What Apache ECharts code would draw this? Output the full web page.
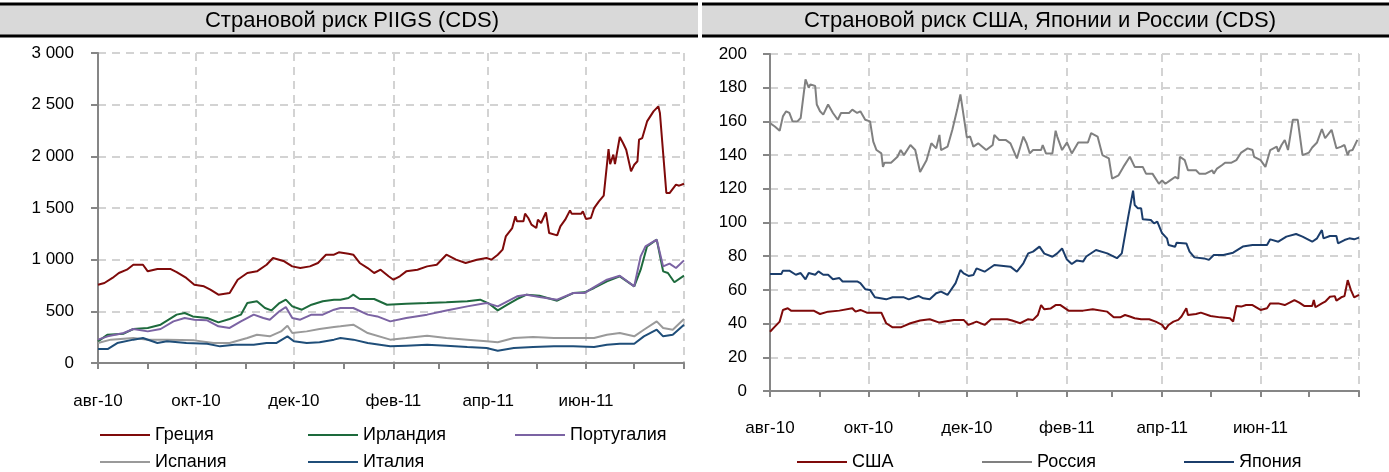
<!DOCTYPE html>
<html>
<head>
<meta charset="utf-8">
<title>Страновой риск</title>
<script src="https://cdn.jsdelivr.net/npm/echarts@6/dist/echarts.min.js"></script>
<style>
  html, body { margin: 0; padding: 0; background: #fff; }
  #chart { width: 1389px; height: 472px; }
</style>
</head>
<body>
<div id="chart"></div>
<script>
// x axis: one category per calendar day, 0 = 01.08.2010 ... 365 = 01.08.2011
const dayCount = 366
const monthStarts = [0, 31, 61, 92, 122, 153, 184, 212, 243, 273, 304, 334, 365]
const labelDays = [0, 61, 122, 184, 243, 304]
const tickLabels = ['авг-10', 'окт-10', 'дек-10', 'фев-11', 'апр-11', 'июн-11']
const gridDays = [61, 122, 184, 243, 304, 365]

// PIIGS CDS, [day, bp]
const greece = [[0, 758], [4, 774], [9, 823], [13, 871], [18, 903], [22, 951], [28, 951], [31, 887], [37, 910], [45, 910], [49, 880], [55, 823], [60, 758], [66, 742], [70, 710], [75, 661], [82, 677], [87, 806], [93, 871], [99, 887], [105, 951], [109, 1016], [116, 984], [121, 935], [126, 919], [132, 935], [137, 968], [142, 1048], [147, 1048], [150, 1071], [156, 1058], [159, 1048], [163, 968], [168, 919], [172, 871], [176, 903], [181, 839], [184, 806], [188, 839], [192, 887], [199, 903], [205, 935], [211, 951], [217, 1048], [223, 1000], [229, 968], [236, 1000], [242, 1016], [245, 1000], [249, 1048], [252, 1097], [254, 1225], [258, 1306], [260, 1419], [261, 1371], [265, 1371], [266, 1445], [268, 1403], [270, 1339], [273, 1306], [274, 1387], [276, 1355], [279, 1457], [281, 1258], [286, 1235], [288, 1322], [291, 1387], [294, 1477], [295, 1445], [301, 1445], [302, 1468], [304, 1393], [307, 1403], [309, 1499], [312, 1564], [315, 1619], [317, 1919], [318, 2071], [319, 1925], [321, 2016], [322, 1925], [325, 2187], [327, 2129], [329, 2064], [332, 1855], [334, 1919], [336, 1952], [337, 2161], [339, 2177], [342, 2338], [343, 2338], [346, 2435], [349, 2484], [350, 2419], [354, 1645], [356, 1645], [360, 1726], [362, 1716], [365, 1735]]
const ireland = [[0, 209], [6, 274], [16, 284], [22, 329], [31, 339], [39, 371], [49, 468], [54, 484], [59, 451], [68, 435], [75, 393], [82, 426], [89, 468], [93, 580], [99, 597], [104, 532], [108, 509], [113, 580], [117, 613], [121, 548], [127, 516], [133, 564], [140, 597], [147, 613], [151, 613], [156, 629], [159, 661], [163, 619], [172, 619], [180, 564], [192, 574], [205, 580], [217, 587], [230, 597], [238, 613], [243, 580], [249, 509], [255, 564], [261, 619], [267, 661], [275, 651], [286, 603], [296, 677], [303, 684], [309, 726], [317, 790], [325, 839], [334, 742], [338, 903], [342, 1129], [348, 1194], [352, 887], [355, 871], [359, 781], [365, 845]]
const portugal = [[0, 226], [6, 258], [16, 290], [22, 329], [31, 306], [39, 329], [47, 403], [54, 435], [60, 419], [68, 413], [75, 355], [82, 339], [89, 403], [97, 468], [103, 435], [107, 419], [113, 500], [117, 542], [121, 435], [126, 419], [133, 468], [140, 468], [147, 516], [151, 532], [159, 532], [168, 468], [174, 451], [182, 403], [192, 435], [205, 468], [217, 509], [230, 548], [242, 580], [249, 548], [255, 597], [261, 645], [267, 661], [275, 638], [286, 613], [296, 677], [303, 677], [309, 735], [317, 806], [325, 845], [334, 742], [338, 1032], [341, 1129], [348, 1194], [352, 935], [356, 961], [360, 919], [365, 993]]
const spain = [[0, 193], [8, 226], [22, 242], [31, 226], [43, 226], [60, 219], [72, 193], [82, 193], [93, 242], [99, 274], [107, 258], [114, 306], [118, 361], [121, 290], [130, 306], [138, 329], [147, 348], [151, 355], [159, 371], [168, 290], [182, 226], [192, 242], [205, 264], [217, 242], [230, 226], [242, 210], [249, 200], [259, 242], [271, 252], [284, 242], [296, 242], [309, 242], [317, 274], [325, 290], [334, 258], [340, 322], [348, 403], [352, 339], [358, 322], [365, 426]]
const italy = [[0, 135], [6, 135], [12, 193], [22, 226], [28, 242], [37, 193], [43, 210], [55, 193], [68, 187], [76, 161], [85, 177], [97, 177], [105, 193], [111, 193], [118, 258], [122, 210], [130, 193], [138, 200], [147, 226], [151, 242], [159, 226], [168, 193], [182, 161], [192, 168], [205, 177], [217, 168], [230, 155], [242, 145], [249, 119], [259, 145], [271, 155], [284, 161], [296, 161], [309, 155], [317, 177], [325, 187], [334, 187], [340, 258], [348, 322], [352, 258], [358, 274], [365, 371]]

// USA / Russia / Japan CDS, [day, bp]
const usa = [[0, 35.2], [3, 38.2], [6, 41.2], [8, 48.1], [11, 49.1], [13, 47.7], [27, 47.7], [28, 48.5], [31, 45.7], [36, 47.1], [43, 47.7], [51, 49.1], [53, 47.1], [56, 48.1], [60, 46.5], [69, 46.5], [72, 40.2], [76, 37.8], [81, 37.8], [87, 40.2], [93, 41.8], [99, 42.6], [105, 40.6], [114, 42.2], [120, 42.2], [123, 39.2], [128, 41.2], [133, 39.2], [137, 42.6], [147, 42.6], [150, 41.8], [155, 40.2], [160, 42.6], [163, 42.2], [166, 45.1], [168, 51], [170, 48.5], [174, 49], [177, 51], [180, 51], [185, 47.7], [194, 47.7], [200, 48.5], [209, 47.1], [213, 43.7], [217, 43.7], [220, 45.1], [223, 44.2], [226, 43.2], [230, 42.6], [235, 42.6], [239, 41.2], [243, 39.2], [245, 36.6], [247, 39.2], [250, 41.2], [253, 42.2], [255, 44.2], [258, 49.1], [259, 45.1], [264, 45.7], [267, 46.5], [273, 44.5], [279, 43.7], [285, 43.2], [287, 41.2], [289, 50.5], [292, 50.1], [295, 51], [299, 51], [304, 48.1], [308, 49.1], [310, 52], [315, 52], [319, 51], [322, 52.4], [325, 54], [328, 52.4], [331, 50.5], [336, 50.5], [337, 54], [338, 49.7], [342, 52], [344, 53], [347, 55.9], [350, 56.3], [351, 53.6], [354, 55.6], [356, 56.3], [358, 65.8], [360, 59.9], [362, 55.6], [365, 57]]
const russia = [[0, 159], [3, 157], [6, 154.5], [8, 163], [10, 166], [12, 165], [14, 160], [17, 160], [19, 162], [20, 162], [22, 185], [24, 180], [25, 182], [28, 181], [29, 170], [31, 166], [33, 164], [36, 170], [39, 165], [42, 161], [44, 165], [49, 165], [51, 167], [54, 165], [56, 166], [59, 161], [62, 160], [64, 148], [66, 143], [69, 141], [70, 133], [71, 135.5], [75, 135.5], [79, 139], [81, 143], [83, 140], [87, 146], [90, 143], [93, 130], [97, 137], [100, 147], [103, 144], [105, 152], [106, 143], [110, 145], [113, 155], [116, 167], [118, 176], [122, 150.5], [124, 151], [126, 145], [129, 147], [134, 143], [138, 146], [139, 152], [142, 149], [146, 149], [149, 147], [153, 138], [157, 151], [159, 147], [161, 141], [163, 143], [168, 143], [169, 146], [171, 141], [175, 141], [177, 154.5], [178, 151], [181, 143], [184, 147.5], [187, 141], [191, 147.5], [197, 147.5], [199, 153], [203, 151], [206, 140], [210, 138], [212, 126], [216, 128], [219, 133], [223, 139], [226, 133], [231, 133], [233, 129], [237, 129], [241, 123], [243, 125], [245, 123], [248, 125], [251, 127], [253, 126], [254, 139], [257, 137], [259, 131], [264, 131], [266, 129], [270, 129], [274, 131], [275, 129], [277, 132], [280, 134], [282, 135.5], [286, 135.5], [289, 137], [292, 141.5], [296, 144], [299, 143], [300, 139], [304, 137], [307, 133], [310, 143], [312, 144], [314, 145], [315, 142], [317, 146], [319, 149], [321, 143], [324, 161], [327, 161], [330, 140], [334, 141.5], [336, 144.5], [339, 147.5], [342, 155.5], [344, 150], [345, 150], [348, 155], [351, 144], [354, 145], [356, 146], [358, 140], [359, 142.5], [361, 143], [364, 149]]
const japan = [[0, 69.4], [7, 69.4], [8, 71.4], [12, 71.4], [16, 69], [19, 70], [22, 66.3], [24, 70], [28, 69], [30, 71], [33, 69], [36, 69], [39, 66.3], [43, 67], [45, 65], [54, 65], [56, 64], [59, 60.4], [62, 60], [65, 55.6], [72, 54.4], [76, 55.6], [83, 55.6], [86, 54.4], [92, 56.4], [95, 55], [99, 54.4], [103, 58], [106, 59], [110, 57], [115, 64], [118, 71.8], [120, 69.8], [123, 68.3], [126, 68.8], [128, 72.8], [133, 70.8], [139, 74.8], [149, 73.8], [153, 70.8], [157, 75.8], [160, 81.7], [163, 82.7], [167, 85.7], [170, 81.5], [175, 79.7], [178, 81.7], [181, 84.6], [184, 78], [187, 75.4], [190, 77.4], [194, 76.8], [196, 79.8], [202, 83.7], [209, 81.7], [215, 78.8], [218, 81.7], [222, 103.5], [225, 118.9], [226, 110.4], [228, 108.4], [230, 108.4], [231, 101.9], [236, 101.5], [238, 99.5], [240, 100.5], [243, 93.6], [246, 90.6], [247, 86.6], [251, 85.6], [252, 88], [258, 87.6], [260, 82.7], [263, 79.3], [269, 78.7], [272, 77.8], [275, 80.7], [281, 80.7], [287, 82.1], [293, 85.7], [299, 86.7], [308, 86.7], [310, 90], [315, 88.6], [320, 91.6], [326, 93.2], [330, 91.6], [336, 88.6], [339, 90.6], [342, 95.5], [343, 90.6], [347, 92], [351, 92], [352, 87.6], [356, 89.6], [359, 90.6], [362, 90], [365, 91]]

const FONT = "'Liberation Sans', Arial, sans-serif"
const AXIS_GREY = '#868686'
const GRID_GREY = '#d3d3d3'

const days = []
for (let i = 0; i < dayCount; i++) days.push(String(i))

const labelAt = {}
labelDays.forEach((d, i) => { labelAt[d] = tickLabels[i] })

function fmtThousands(v) {
  return String(v).replace(/\B(?=(\d{3})+(?!\d))/g, ' ')
}

function makeXAxis(gridIndex, margin) {
  return {
    type: 'category',
    gridIndex: gridIndex,
    data: days,
    boundaryGap: false,
    axisLine: { lineStyle: { color: AXIS_GREY, width: 2 } },
    axisTick: {
      length: 6,
      interval: (i) => monthStarts.indexOf(i) >= 0,
      lineStyle: { color: AXIS_GREY, width: 2 }
    },
    axisLabel: {
      interval: (i) => labelAt[i] !== undefined,
      formatter: (v) => labelAt[v] || '',
      color: '#000',
      fontSize: 17,
      fontFamily: FONT,
      margin: margin
    },
    splitLine: {
      show: true,
      interval: (i) => gridDays.indexOf(i) >= 0,
      lineStyle: { color: GRID_GREY, width: 2, type: [8, 6] }
    }
  }
}

function makeYAxis(gridIndex, max, step, margin) {
  return {
    type: 'value',
    gridIndex: gridIndex,
    min: 0,
    max: max,
    interval: step,
    axisLine: { show: true, lineStyle: { color: AXIS_GREY, width: 2 } },
    axisTick: { show: true, length: 7, lineStyle: { color: AXIS_GREY, width: 2 } },
    axisLabel: {
      formatter: fmtThousands,
      color: '#000',
      fontSize: 17,
      fontFamily: FONT,
      margin: margin
    },
    splitLine: { lineStyle: { color: GRID_GREY, width: 2, type: [8, 6] } }
  }
}

function makeLine(name, data, color, idx) {
  return {
    name: name,
    type: 'line',
    xAxisIndex: idx,
    yAxisIndex: idx,
    data: data,
    symbol: 'none',
    showSymbol: false,
    color: color,
    lineStyle: { color: color, width: 2 },
    emphasis: { disabled: true },
    animation: false
  }
}

function legendAt(name, left, top) {
  return {
    data: [name],
    left: left,
    top: top,
    icon: 'rect',
    itemWidth: 50,
    itemHeight: 2,
    itemGap: 0,
    padding: 0,
    selectedMode: false,
    textStyle: { color: '#000', fontSize: 18, fontFamily: FONT }
  }
}

function titleBar(x, w, textX, text) {
  return [
    { type: 'rect', shape: { x: x, y: 4, width: w, height: 32 }, style: { fill: '#d9d9d9' }, silent: true },
    { type: 'line', shape: { x1: x, y1: 4, x2: x + w, y2: 4 }, style: { stroke: '#000', lineWidth: 3 }, silent: true },
    { type: 'line', shape: { x1: x, y1: 36, x2: x + w, y2: 36 }, style: { stroke: '#000', lineWidth: 3 }, silent: true },
    {
      type: 'text',
      x: textX,
      y: 21,
      silent: true,
      style: {
        text: text,
        fill: '#000',
        fontSize: 22,
        fontFamily: FONT,
        align: 'center',
        verticalAlign: 'middle'
      }
    }
  ]
}

const chart = echarts.init(document.getElementById('chart'))
chart.setOption({
  animation: false,
  backgroundColor: '#fff',
  graphic: titleBar(0, 698, 352, 'Страновой риск PIIGS (CDS)').concat(
    titleBar(702, 687, 1040, 'Страновой риск США, Японии и России (CDS)')),
  grid: [
    { left: 98, right: 705, top: 53, bottom: 109 },
    { left: 770, right: 30, top: 54, bottom: 81 }
  ],
  xAxis: [makeXAxis(0, 30), makeXAxis(1, 29)],
  yAxis: [makeYAxis(0, 3000, 500, 24), makeYAxis(1, 200, 20, 23)],
  legend: [
    legendAt('Греция', 100, 426),
    legendAt('Ирландия', 308, 426),
    legendAt('Португалия', 515, 426),
    legendAt('Испания', 100, 453),
    legendAt('Италия', 308, 453),
    legendAt('США', 797, 453),
    legendAt('Россия', 982, 453),
    legendAt('Япония', 1184, 453)
  ],
  series: [
    makeLine('Греция', greece, '#7f0a0a', 0),
    makeLine('Ирландия', ireland, '#1d6a3c', 0),
    makeLine('Португалия', portugal, '#7b63a3', 0),
    makeLine('Испания', spain, '#9a9a9a', 0),
    makeLine('Италия', italy, '#1f4e79', 0),
    makeLine('США', usa, '#7f0a0a', 1),
    makeLine('Россия', russia, '#808080', 1),
    makeLine('Япония', japan, '#1b3d6b', 1)
  ]
})
</script>
</body>
</html>
